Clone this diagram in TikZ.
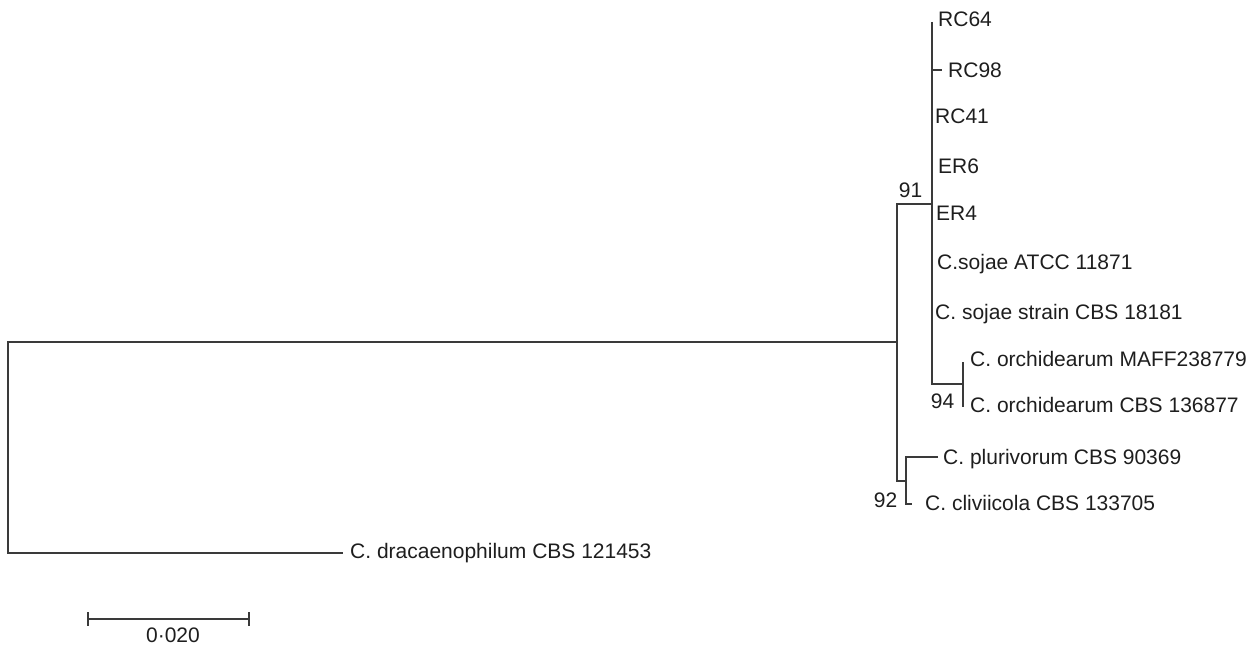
\documentclass[tikz,border=0pt]{standalone}
\usepackage{fontspec}
\setmainfont{Liberation Sans}
\definecolor{linec}{HTML}{3A3A3A}
\definecolor{txtc}{HTML}{1E1E1E}
\begin{document}
\begin{tikzpicture}[x=1pt,y=-1pt,
  branch/.style={draw=linec, line width=1.8pt, line join=miter},
  leaf/.style={anchor=base west, inner sep=0pt, text=txtc, font=\fontsize{21}{24}\selectfont},
  boot/.style={anchor=base, inner sep=0pt, text=txtc, font=\fontsize{21}{24}\selectfont}]
\useasboundingbox (0,0) rectangle (1259,647);
% internal coordinates
\coordinate (rootTop) at (8,342);
\coordinate (rootBot) at (8,553);
\coordinate (A) at (897,342);
\coordinate (Atop) at (897,204);
\coordinate (Abot) at (897,481);
\coordinate (B) at (931.7,204);
\coordinate (Btop) at (931.7,22);
\coordinate (Bbot) at (931.7,384);
\coordinate (bRC98) at (931.7,70);
\coordinate (tRC98) at (942,70);
\coordinate (D) at (963.3,384);
\coordinate (Dtop) at (963.3,362);
\coordinate (Dbot) at (963.3,407);
\coordinate (C) at (905.7,481);
\coordinate (Ctop) at (905.7,457);
\coordinate (Cbot) at (905.7,504);
\coordinate (tPlu) at (938,457);
\coordinate (tCli) at (912,504);
\coordinate (tDra) at (343,553);
\coordinate (sbL) at (88,619);
\coordinate (sbR) at (249,619);
\coordinate (sbLt) at (88,612);
\coordinate (sbLb) at (88,626);
\coordinate (sbRt) at (249,612);
\coordinate (sbRb) at (249,626);
% branches
\draw[branch] (A) -- (rootTop) -- (rootBot) -- (tDra);
\draw[branch] (B) -- (Atop) -- (Abot) -- (C);
\draw[branch] (Btop) -- (Bbot) -- (D);
\draw[branch] (bRC98) -- (tRC98);
\draw[branch] (Dtop) -- (Dbot);
\draw[branch] (tPlu) -- (Ctop) -- (Cbot) -- (tCli);
% scale bar
\draw[branch] (sbL) -- (sbR);
\draw[branch] (sbLt) -- (sbLb);
\draw[branch] (sbRt) -- (sbRb);
% leaf labels
\node[leaf] (RC64) at (938,27) {RC64};
\node[leaf] (RC98) at (948,77.5) {RC98};
\node[leaf] (RC41) at (935,123.5) {RC41};
\node[leaf] (ER6) at (938,173.5) {ER6};
\node[leaf] (ER4) at (936,220.5) {ER4};
\node[leaf] (ATCC) at (937,269.5) {C.sojae ATCC 11871};
\node[leaf] (CBS18181) at (935,319.5) {C. sojae strain CBS 18181};
\node[leaf] (MAFF) at (970,366) {C. orchidearum MAFF238779};
\node[leaf] (CBS136877) at (970,412.5) {C. orchidearum CBS 136877};
\node[leaf] (Plu) at (943,464) {C. plurivorum CBS 90369};
\node[leaf] (Cli) at (925,510.5) {C. cliviicola CBS 133705};
\node[leaf] (Dra) at (350,558.5) {C. dracaenophilum CBS 121453};
% bootstrap values
\node[boot] (b91) at (910.5,197.5) {91};
\node[boot] (b94) at (942.5,408.5) {94};
\node[boot] (b92) at (885.5,507.5) {92};
\node[boot] (sbLabel) at (173,642) {0·020};
\end{tikzpicture}
\end{document}
